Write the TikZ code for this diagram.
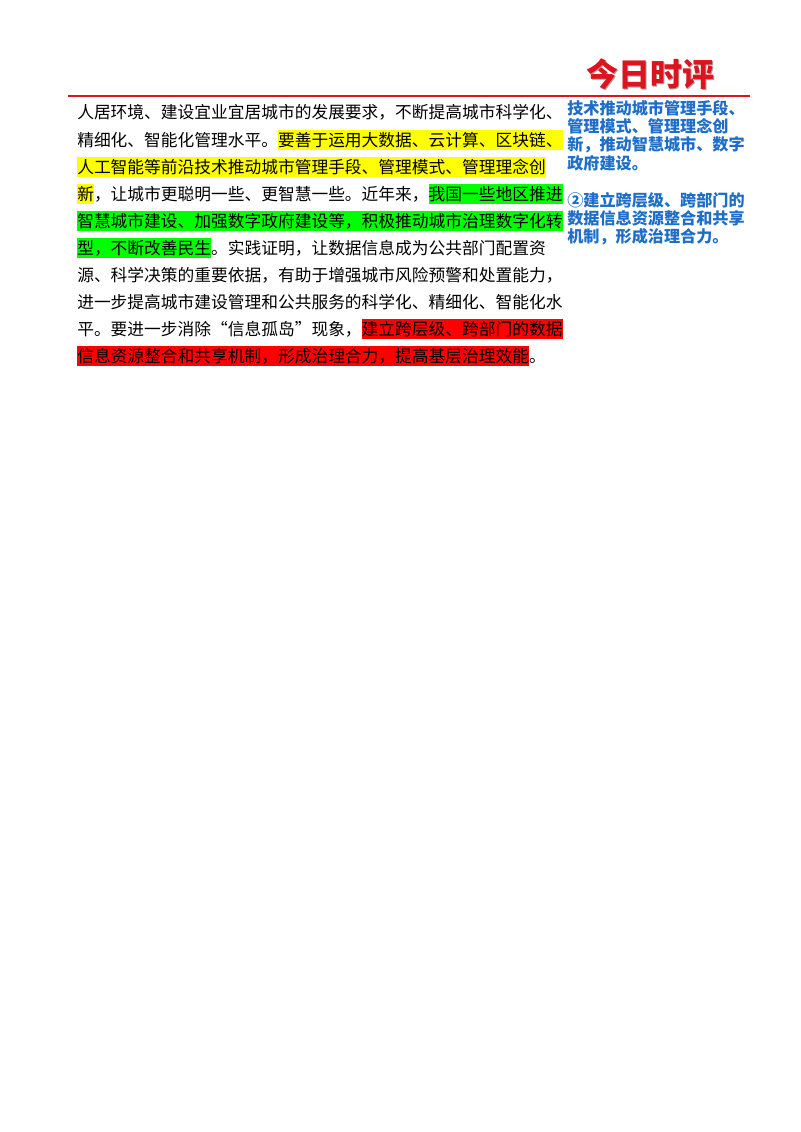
\documentclass[tikz,border=0pt]{standalone}
\usepackage{fontspec}
\newfontfamily\cjk{Noto Sans CJK SC}
\definecolor{hlyellow}{RGB}{255,255,0}
\definecolor{hlgreen}{RGB}{0,255,0}
\definecolor{hlred}{RGB}{255,0,0}
\definecolor{sideblue}{RGB}{30,110,200}
\definecolor{headred}{RGB}{220,20,30}
\newcommand{\hlstrut}{\rule[-3.2pt]{0pt}{15.5pt}}
\newcommand{\hly}[1]{{\setlength\fboxsep{0pt}\colorbox{hlyellow}{\hlstrut#1}}}
\newcommand{\hlg}[1]{{\setlength\fboxsep{0pt}\colorbox{hlgreen}{\hlstrut#1}}}
\newcommand{\hlr}[1]{{\setlength\fboxsep{0pt}\colorbox{hlred}{\hlstrut#1}}}
\begin{document}
\begin{tikzpicture}[x=0.75pt,y=-0.75pt,
  bodyline/.style={anchor=west,inner sep=0pt,font=\cjk\fontsize{12.55pt}{12.55pt}\selectfont},
  sideline/.style={anchor=west,inner sep=0pt,text=sideblue,font=\cjk\bfseries\fontsize{12.1pt}{12.1pt}\selectfont}]
\useasboundingbox[fill=white] (0,0) rectangle (800,1132);
\node[inner sep=0pt,text=black!35,font=\cjk\bfseries\fontsize{24pt}{24pt}\selectfont] (hs) at (651.5,75.5) {今日时评};
\node[inner sep=0pt,text=headred,font=\cjk\bfseries\fontsize{24pt}{24pt}\selectfont] (head) at (650,74) {今日时评};
\coordinate (rl) at (68,96);
\coordinate (rr) at (750,96);
\draw[headred,line width=2.2pt] (rl) -- (rr);
\node[bodyline] (l1) at (77,112) {人居环境、建设宜业宜居城市的发展要求，不断提高城市科学化、};
\node[bodyline] (l2) at (77,140) {精细化、智能化管理水平。\hly{要善于运用大数据、云计算、区块链、}};
\node[bodyline] (l3) at (77,167) {\hly{人工智能等前沿技术推动城市管理手段、管理模式、管理理念创}};
\node[bodyline] (l4) at (77,194) {\hly{新}，让城市更聪明一些、更智慧一些。近年来，\hlg{我国一些地区推进}};
\node[bodyline] (l5) at (77,221) {\hlg{智慧城市建设、加强数字政府建设等，积极推动城市治理数字化转}};
\node[bodyline] (l6) at (77,248) {\hlg{型，不断改善民生}。实践证明，让数据信息成为公共部门配置资};
\node[bodyline] (l7) at (77,275) {源、科学决策的重要依据，有助于增强城市风险预警和处置能力，};
\node[bodyline] (l8) at (77,302) {进一步提高城市建设管理和公共服务的科学化、精细化、智能化水};
\node[bodyline] (l9) at (77,329) {平。要进一步消除“信息孤岛”现象，\hlr{建立跨层级、跨部门的数据}};
\node[bodyline] (l10) at (77,356) {\hlr{信息资源整合和共享机制，形成治理合力，提高基层治理效能}。};
\node[sideline] (s1) at (567,108) {技术推动城市管理手段、};
\node[sideline] (s2) at (567,126.5) {管理模式、管理理念创};
\node[sideline] (s3) at (567,145) {新，推动智慧城市、数字};
\node[sideline] (s4) at (567,163.5) {政府建设。};
\node[sideline] (s5) at (567,200) {②建立跨层级、跨部门的};
\node[sideline] (s6) at (567,218.5) {数据信息资源整合和共享};
\node[sideline] (s7) at (567,237) {机制，形成治理合力。};
\end{tikzpicture}
\end{document}
